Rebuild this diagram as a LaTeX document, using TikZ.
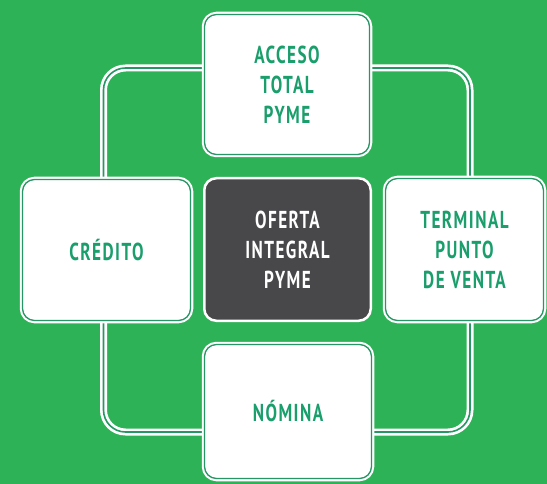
\documentclass[tikz,border=0pt]{standalone}
\usepackage{fontspec}
\newfontfamily\boxfont[FakeStretch=0.7,LetterSpace=6]{PT Sans}
\definecolor{bggreen}{RGB}{46,178,88}
\definecolor{txtgreen}{RGB}{26,158,108}
\definecolor{rimline}{RGB}{38,150,100}
\definecolor{darkbox}{RGB}{72,72,74}
\begin{document}
\begin{tikzpicture}[x=1pt,y=-1pt,
  boxtext/.style={font=\boxfont\bfseries\fontsize{24.5}{30}\selectfont, align=center},
  whitebox/.style={boxtext, text=txtgreen, fill=white, draw=rimline, line width=1.3pt,
    rounded corners=12pt, inner sep=0pt,
    preaction={draw=white, line width=5.5pt}},
  darkbox/.style={boxtext, text=white, fill=darkbox, draw=white, line width=2.5pt,
    rounded corners=12pt, inner sep=0pt},
  loopline/.style={draw=white, line width=7pt, rounded corners=22pt,
    postaction={draw=rimline, line width=1.6pt}}
]
\useasboundingbox[fill=bggreen] (0,0) rectangle (547,484);
\coordinate (ltl) at (103.5,68);
\coordinate (ltr) at (470,68);
\coordinate (lbr) at (470,432);
\coordinate (lbl) at (103.5,432);
\draw[loopline] (ltl) -- (ltr) -- (lbr) -- (lbl) -- cycle;
\node[whitebox, minimum width=165pt, minimum height=140pt] (top) at (287,84.5) {ACCESO\\TOTAL\\PYME};
\node[whitebox, minimum width=168pt, minimum height=141pt] (left) at (106.5,250) {CRÉDITO};
\node[darkbox, minimum width=166.5pt, minimum height=142.5pt] (center) at (287.5,249.5) {OFERTA\\INTEGRAL\\PYME};
\node[whitebox, minimum width=158pt, minimum height=142pt] (right) at (464.5,249.5) {TERMINAL\\PUNTO\\DE VENTA};
\node[whitebox, minimum width=167pt, minimum height=134pt] (bottom) at (288,411.5) {NÓMINA};
\end{tikzpicture}
\end{document}
